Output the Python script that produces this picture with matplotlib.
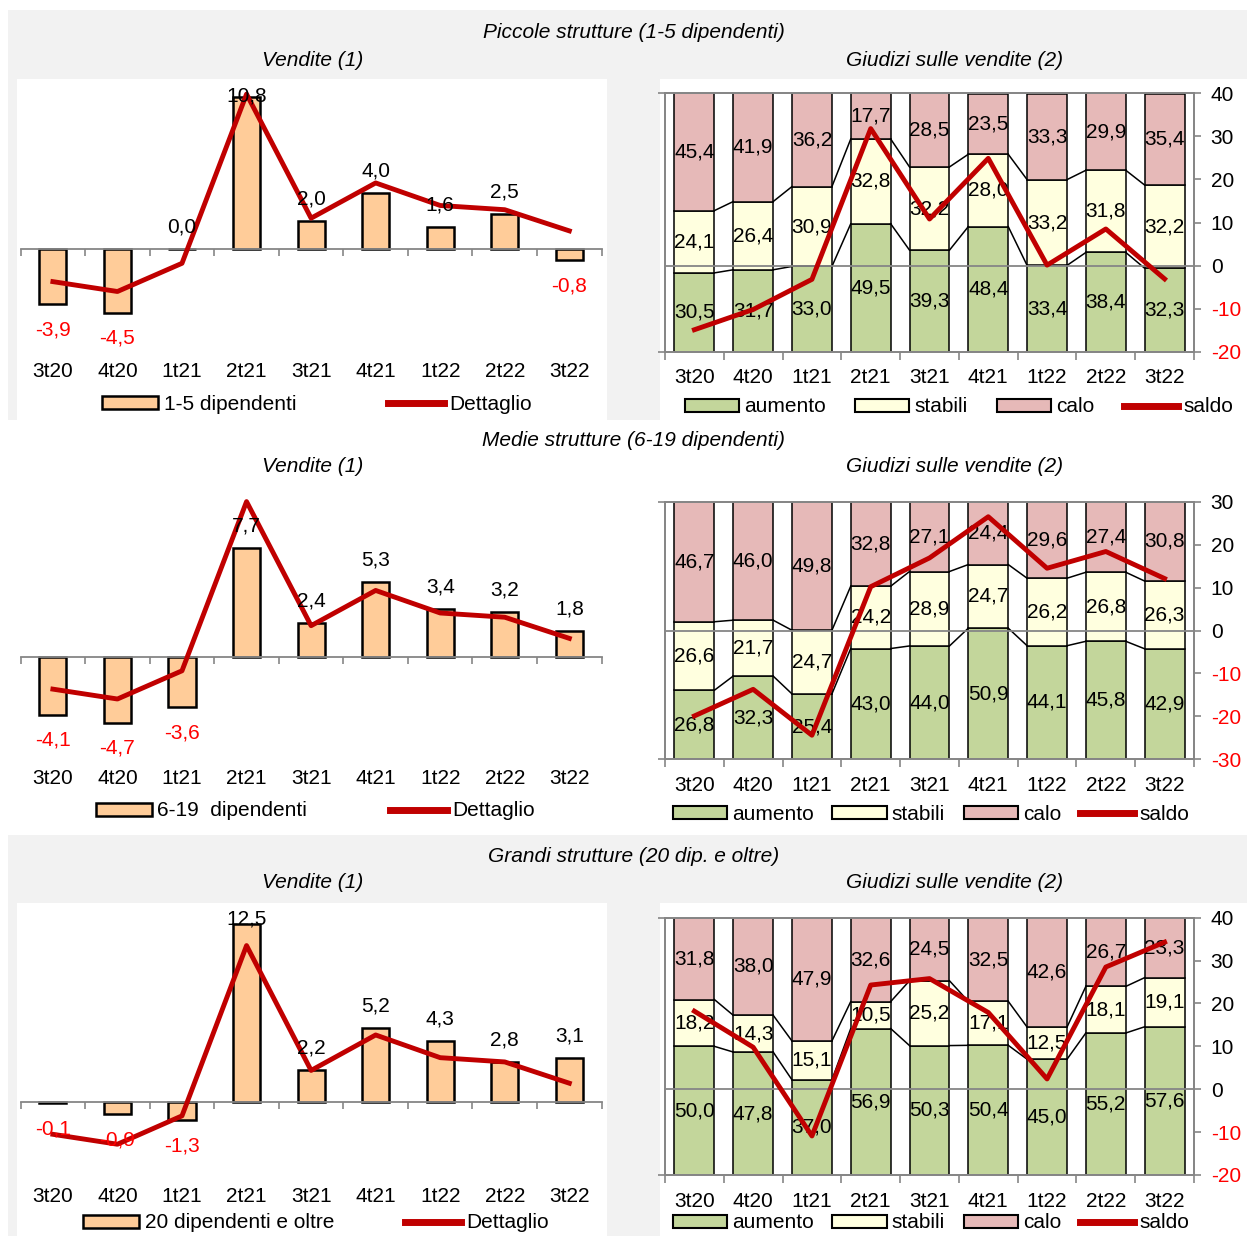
import numpy as np
import matplotlib.pyplot as plt
from matplotlib.patches import Rectangle, Patch
from matplotlib.lines import Line2D

plt.rcParams['font.family'] = ['Liberation Sans', 'DejaVu Sans']
plt.rcParams['axes.unicode_minus'] = False

W, H = 1247, 1236

periodi = ['3t20', '4t20', '1t21', '2t21', '3t21', '4t21', '1t22', '2t22', '3t22']

# Dettaglio (totale commercio al dettaglio), uguale nei tre pannelli
dettaglio = [-2.3, -3.0, -1.0, 11.0, 2.2, 4.7, 3.1, 2.8, 1.3]

# Vendite (1)
vendite_piccole = [-3.9, -4.5, 0.0, 10.8, 2.0, 4.0, 1.6, 2.5, -0.8]
vendite_medie = [-4.1, -4.7, -3.6, 7.7, 2.4, 5.3, 3.4, 3.2, 1.8]
vendite_grandi = [-0.1, -0.9, -1.3, 12.5, 2.2, 5.2, 4.3, 2.8, 3.1]

# Giudizi sulle vendite (2)
aumento_piccole = [30.5, 31.7, 33.0, 49.5, 39.3, 48.4, 33.4, 38.4, 32.3]
stabili_piccole = [24.1, 26.4, 30.9, 32.8, 32.2, 28.0, 33.2, 31.8, 32.2]
calo_piccole = [45.4, 41.9, 36.2, 17.7, 28.5, 23.5, 33.3, 29.9, 35.4]
saldo_piccole = [-14.9, -10.2, -3.2, 31.8, 10.8, 24.9, 0.1, 8.5, -3.1]

aumento_medie = [26.8, 32.3, 25.4, 43.0, 44.0, 50.9, 44.1, 45.8, 42.9]
stabili_medie = [26.6, 21.7, 24.7, 24.2, 28.9, 24.7, 26.2, 26.8, 26.3]
calo_medie = [46.7, 46.0, 49.8, 32.8, 27.1, 24.4, 29.6, 27.4, 30.8]
saldo_medie = [-19.9, -13.7, -24.4, 10.2, 16.9, 26.5, 14.5, 18.4, 12.1]

aumento_grandi = [50.0, 47.8, 37.0, 56.9, 50.3, 50.4, 45.0, 55.2, 57.6]
stabili_grandi = [18.2, 14.3, 15.1, 10.5, 25.2, 17.1, 12.5, 18.1, 19.1]
calo_grandi = [31.8, 38.0, 47.9, 32.6, 24.5, 32.5, 42.6, 26.7, 23.3]
saldo_grandi = [18.2, 9.8, -10.9, 24.3, 25.8, 17.9, 2.4, 28.5, 34.3]

ROSSO = '#C00000'
PESCA = '#FFCC99'
VERDE = '#C3D69B'
GIALLO = '#FFFFDF'
ROSA = '#E6B9B8'
GRIGIO = '#868686'
FONDO = '#F2F2F2'
FS = 15


def fmt(v):
    return f'{v:.1f}'.replace('.', ',')


def rect_px(x0, y0, x1, y1):
    return [x0 / W, 1 - y1 / H, (x1 - x0) / W, (y1 - y0) / H]


def testo(x, y, s, **kw):
    fig.text(x / W, 1 - y / H, s, ha='center', va='center', fontsize=FS, **kw)


fig = plt.figure(figsize=(W / 100, H / 100), dpi=100)
fig.patch.set_facecolor('white')

# sfondi grigi e riquadri bianchi
for (x0, y0, x1, y1, c) in [(8, 10, W, 420, FONDO), (17, 79, 607, 420, 'white'),
                            (660, 79, W, 420, 'white'),
                            (8, 835, W, H, FONDO), (17, 903, 607, H, 'white'),
                            (660, 903, W, H, 'white')]:
    r = rect_px(x0, y0, x1, y1)
    fig.patches.append(Rectangle((r[0], r[1]), r[2], r[3], transform=fig.transFigure,
                                 facecolor=c, edgecolor='none', zorder=-10))


def pannello_vendite(rect, ylim, valori, nome, leg_xy, colsp):
    ax = fig.add_axes(rect)
    ax.set_facecolor('none')
    x = np.arange(len(periodi))
    ax.bar(x, valori, width=0.42, color=PESCA, edgecolor='black', linewidth=1.8, zorder=2)
    ax.plot(x, dettaglio, color=ROSSO, lw=3.5, zorder=3)
    ax.set_xlim(-0.5, len(periodi) - 0.5)
    ax.set_ylim(*ylim)
    for s in ax.spines.values():
        s.set_visible(False)
    ax.spines['bottom'].set_visible(True)
    ax.spines['bottom'].set_position(('data', 0))
    ax.spines['bottom'].set_color(GRIGIO)
    ax.spines['bottom'].set_linewidth(1.3)
    ax.set_yticks([])
    ax.set_xticks(x)
    ax.set_xticks(np.arange(-0.5, len(periodi), 1), minor=True)
    ax.tick_params(axis='x', which='major', length=0, labelbottom=False)
    ax.tick_params(axis='x', which='minor', length=5, width=1.2, color=GRIGIO, direction='out')
    sec = ax.secondary_xaxis('bottom')
    sec.set_xticks(x, periodi)
    sec.tick_params(length=0, pad=0, labelsize=FS)
    sec.spines['bottom'].set_visible(False)

    top = ylim[1]
    for xi, v in zip(x, valori):
        if v >= 0:
            ax.text(xi, min(v + 1.55, top - 1.1), fmt(v), ha='center', va='center',
                    fontsize=FS, color='black', zorder=4)
        else:
            ax.text(xi, v - 1.8, fmt(v), ha='center', va='center',
                    fontsize=FS, color='red', zorder=4)

    handles = [Patch(facecolor=PESCA, edgecolor='black', linewidth=1.8),
               Line2D([], [], color=ROSSO, lw=5)]
    fig.legend(handles, [nome, 'Dettaglio'], loc='center',
               bbox_to_anchor=(leg_xy[0] / W, 1 - leg_xy[1] / H), ncol=2, frameon=False,
               fontsize=FS, handlelength=2.7, handleheight=0.6, handletextpad=0.25,
               columnspacing=colsp, borderpad=0)
    return ax


def pannello_giudizi(rect, ylim, aum, stab, calo, saldo, leg_xy, colsp):
    ax = fig.add_axes(rect)
    ax.set_facecolor('none')
    x = np.arange(len(periodi))
    w = 0.68
    a = np.array(aum)
    s = np.array(stab)
    c = np.array(calo)
    ax.bar(x, a, w, color=VERDE, edgecolor='black', linewidth=1.1, zorder=2)
    ax.bar(x, s, w, bottom=a, color=GIALLO, edgecolor='black', linewidth=1.1, zorder=2)
    ax.bar(x, c, w, bottom=a + s, color=ROSA, edgecolor='black', linewidth=1.1, zorder=2)
    # linee di serie tra le colonne
    for livello in (a, a + s):
        for i in range(len(x) - 1):
            ax.plot([x[i] + w / 2, x[i + 1] - w / 2], [livello[i], livello[i + 1]],
                    color='black', lw=1.1, zorder=2)
    for i in range(len(x)):
        ax.text(x[i], a[i] / 2, fmt(a[i]), ha='center', va='center', fontsize=FS, zorder=3)
        ax.text(x[i], a[i] + s[i] / 2, fmt(s[i]), ha='center', va='center', fontsize=FS, zorder=3)
        ax.text(x[i], a[i] + s[i] + c[i] / 2, fmt(c[i]), ha='center', va='center',
                fontsize=FS, zorder=3)
    ax.set_xlim(-0.5, len(periodi) - 0.5)
    ax.set_ylim(0, 100)
    for sp in ax.spines.values():
        sp.set_color(GRIGIO)
        sp.set_linewidth(1.3)
    ax.set_yticks([0, 100])
    ax.tick_params(axis='y', length=5, width=1.2, color=GRIGIO, labelleft=False)
    ax.set_xticks(x, periodi)
    ax.set_xticks(np.arange(-0.5, len(periodi), 1), minor=True)
    ax.tick_params(axis='x', which='major', length=0, pad=12, labelsize=FS)
    ax.tick_params(axis='x', which='minor', length=6, width=1.2, color=GRIGIO)

    ax2 = ax.twinx()
    ax2.set_ylim(*ylim)
    ax2.axhline(0, color=GRIGIO, lw=1.3, zorder=1)
    ax2.plot(x, saldo, color=ROSSO, lw=3.5, zorder=3)
    ax2.set_yticks(np.arange(ylim[0], ylim[1] + 1, 10))
    ax2.tick_params(axis='y', length=5, width=1.2, color=GRIGIO, pad=7, labelsize=FS)
    for sp in ax2.spines.values():
        sp.set_color(GRIGIO)
        sp.set_linewidth(1.3)
    for t, v in zip(ax2.get_yticklabels(), ax2.get_yticks()):
        t.set_color('red' if v < 0 else 'black')

    handles = [Patch(facecolor=VERDE, edgecolor='black', linewidth=1.5),
               Patch(facecolor=GIALLO, edgecolor='black', linewidth=1.5),
               Patch(facecolor=ROSA, edgecolor='black', linewidth=1.5),
               Line2D([], [], color=ROSSO, lw=5)]
    fig.legend(handles, ['aumento', 'stabili', 'calo', 'saldo'], loc='center',
               bbox_to_anchor=(leg_xy[0] / W, 1 - leg_xy[1] / H), ncol=4, frameon=False,
               fontsize=FS, handlelength=2.6, handleheight=0.6, handletextpad=0.25,
               columnspacing=colsp, borderpad=0)
    return ax, ax2


# Piccole strutture
testo(634, 33, 'Piccole strutture (1-5 dipendenti)', style='italic')
testo(313, 60, 'Vendite (1)', style='italic')
testo(955, 60, 'Giudizi sulle vendite (2)', style='italic')
pannello_vendite(rect_px(20.6, 80, 601.6, 362), (-8, 12), vendite_piccole,
                 '1-5 dipendenti', (317, 404), 4.4)
pannello_giudizi(rect_px(665, 93.3, 1194, 351.7), (-20, 40), aumento_piccole,
                 stabili_piccole, calo_piccole, saldo_piccole, (959, 407), 1.4)

# Medie strutture
testo(634, 440, 'Medie strutture (6-19 dipendenti)', style='italic')
testo(313, 467, 'Vendite (1)', style='italic')
testo(955, 467, 'Giudizi sulle vendite (2)', style='italic')
pannello_vendite(rect_px(20.6, 487.5, 601.6, 769.5), (-8, 12), vendite_medie,
                 '6-19  dipendenti', (315, 811), 4.0)
pannello_giudizi(rect_px(665, 501.7, 1194, 759.3), (-30, 30), aumento_medie,
                 stabili_medie, calo_medie, saldo_medie, (931, 814), 0.9)

# Grandi strutture
testo(634, 856, 'Grandi strutture (20 dip. e oltre)', style='italic')
testo(313, 883, 'Vendite (1)', style='italic')
testo(955, 883, 'Giudizi sulle vendite (2)', style='italic')
pannello_vendite(rect_px(20.6, 903, 601.6, 1186.8), (-6, 14), vendite_grandi,
                 '20 dipendenti e oltre', (316, 1223), 3.4)
pannello_giudizi(rect_px(665, 917.7, 1194, 1175), (-20, 40), aumento_grandi,
                 stabili_grandi, calo_grandi, saldo_grandi, (931, 1223), 0.9)

fig.savefig('out.png', dpi=100, facecolor=fig.get_facecolor())
